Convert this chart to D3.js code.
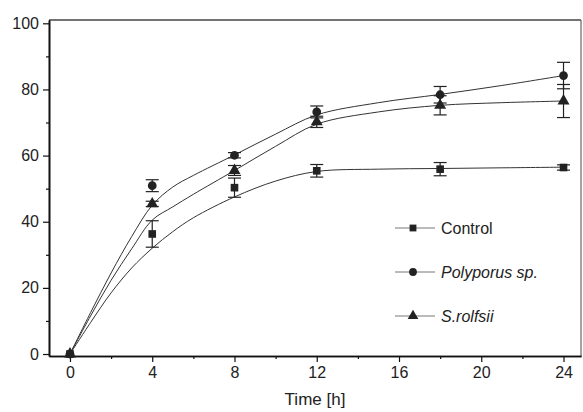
<!DOCTYPE html>
<html>
<head>
<meta charset="utf-8">
<script src="https://cdn.jsdelivr.net/npm/d3@7"></script>
<style>
  body { margin: 0; background: #fff; }
  svg { display: block; font-family: "Liberation Sans", Arial, sans-serif; }
</style>
</head>
<body>
<svg id="chart" width="583" height="412"></svg>
<script>
// measured points (time in h)
const hours = [0, 4, 8, 12, 18, 24];
const controlMean = [0, 36.3, 50.3, 55.4, 55.9, 56.4];
const controlErr = [0, 4, 2.9, 1.9, 2, 0.8];
const polyMean = [0, 50.9, 60.1, 73.2, 78.4, 84.2];
const polyErr = [0, 1.8, 0.8, 1.8, 2.5, 4];
const rolfMean = [0, 45.4, 55.5, 70.2, 75.2, 76.5];
const rolfErr = [0, 0.8, 1.5, 1.7, 2.9, 5];

// fitted curves
const fitHours = [0, 1, 2, 3, 4, 5, 6, 8, 10, 12, 15, 18, 21, 24];
const controlFit = [0, 9.5, 18.5, 26, 32, 37, 41.2, 47.5, 52.3, 55.2, 55.9, 56.1, 56.3, 56.5];
const polyFit = [0, 12.5, 24.5, 35.5, 45, 50.5, 54, 60.2, 66.5, 72.3, 76, 78.5, 81.2, 84.2];
const rolfFit = [0, 11.5, 22.3, 31.8, 40.5, 44.5, 48.3, 55.5, 62.8, 69.5, 73.2, 75.2, 76, 76.5];

const xTicks = [0, 4, 8, 12, 16, 20, 24];
const yTicks = [0, 20, 40, 60, 80, 100];
const seriesNames = ['Control', 'Polyporus sp.', 'S.rolfsii'];

const svg = d3.select('#chart');
const plotLeft = 49, plotRight = 581, plotTop = 20, plotBottom = 356;

const x = d3.scaleLinear().domain([-1.02, 24.85]).range([plotLeft, plotRight]);
const y = d3.scaleLinear().domain([-0.6, 101]).range([plotBottom, plotTop]);

const series = [
  { name: seriesNames[0], mean: controlMean, err: controlErr, fit: controlFit, symbol: d3.symbolSquare, size: 58, italic: false },
  { name: seriesNames[1], mean: polyMean, err: polyErr, fit: polyFit, symbol: d3.symbolCircle, size: 60, italic: true },
  { name: seriesNames[2], mean: rolfMean, err: rolfErr, fit: rolfFit, symbol: d3.symbolTriangle, size: 62, italic: true },
];

// frame (top / right)
svg.append('line').attr('x1', plotLeft).attr('x2', plotRight).attr('y1', plotTop).attr('y2', plotTop)
  .attr('stroke', '#444').attr('stroke-width', 1.4);
svg.append('line').attr('x1', plotRight).attr('x2', plotRight).attr('y1', plotTop).attr('y2', plotBottom)
  .attr('stroke', '#666').attr('stroke-width', 1.2);

// axes
const xAxis = svg.append('g').attr('transform', `translate(0,${plotBottom})`)
  .call(d3.axisBottom(x).tickValues(xTicks).tickSize(6).tickPadding(5).tickSizeOuter(0));
const xMinor = svg.append('g').attr('transform', `translate(0,${plotBottom})`)
  .call(d3.axisBottom(x).tickValues(d3.range(2, 24, 4)).tickSize(3).tickFormat('').tickSizeOuter(0));
const yAxis = svg.append('g').attr('transform', `translate(${plotLeft},0)`)
  .call(d3.axisLeft(y).tickValues(yTicks).tickSize(6).tickPadding(4).tickSizeOuter(0));
const yMinor = svg.append('g').attr('transform', `translate(${plotLeft},0)`)
  .call(d3.axisLeft(y).tickValues(d3.range(10, 100, 20)).tickSize(3).tickFormat('').tickSizeOuter(0));

[xAxis, xMinor, yAxis, yMinor].forEach(g => {
  g.select('.domain').attr('stroke', '#111').attr('stroke-width', 1.6);
  g.selectAll('.tick line').attr('stroke', '#111').attr('stroke-width', 1.2);
  g.selectAll('.tick text').attr('fill', '#222').style('font-size', '16px');
});

svg.append('text').attr('x', (plotLeft + plotRight) / 2).attr('y', 405)
  .attr('text-anchor', 'middle').attr('fill', '#222').style('font-size', '17px')
  .text('Time [h]');

// fitted curves
const curve = d3.line()
  .x(d => x(d[0]))
  .y(d => y(d[1]))
  .curve(d3.curveCatmullRom.alpha(0.5));

series.forEach(s => {
  svg.append('path')
    .datum(fitHours.map((h, i) => [h, s.fit[i]]))
    .attr('d', curve)
    .attr('fill', 'none')
    .attr('stroke', '#333')
    .attr('stroke-width', 1);
});

// error bars and markers
series.forEach(s => {
  const g = svg.append('g');
  const pts = hours.map((h, i) => ({ h, m: s.mean[i], e: s.err[i] }));
  const bars = g.selectAll('.err').data(pts.filter(d => d.e > 0)).join('g');
  bars.append('line')
    .attr('x1', d => x(d.h)).attr('x2', d => x(d.h))
    .attr('y1', d => y(d.m - d.e)).attr('y2', d => y(d.m + d.e))
    .attr('stroke', '#222').attr('stroke-width', 1.2);
  [-1, 1].forEach(sign => {
    bars.append('line')
      .attr('x1', d => x(d.h) - 6.5).attr('x2', d => x(d.h) + 6.5)
      .attr('y1', d => y(d.m + sign * d.e)).attr('y2', d => y(d.m + sign * d.e))
      .attr('stroke', '#222').attr('stroke-width', 1.2);
  });
  g.selectAll('.mk').data(pts).join('path')
    .attr('transform', d => `translate(${x(d.h)},${y(d.m)})`)
    .attr('d', d3.symbol().type(s.symbol).size(s.size))
    .attr('fill', '#222');
});

// legend
const legendY = [228, 272, 316];
series.forEach((s, i) => {
  const g = svg.append('g').attr('transform', `translate(0,${legendY[i]})`);
  g.append('line').attr('x1', 395).attr('x2', 435).attr('y1', 0).attr('y2', 0)
    .attr('stroke', '#777').attr('stroke-width', 1);
  g.append('path').attr('transform', 'translate(413,0)')
    .attr('d', d3.symbol().type(s.symbol).size(s.size * 0.8))
    .attr('fill', '#222');
  g.append('text').attr('x', 441).attr('y', 6)
    .attr('fill', '#222').style('font-size', '16px')
    .style('font-style', s.italic ? 'italic' : 'normal')
    .text(s.name);
});
</script>
</body>
</html>
